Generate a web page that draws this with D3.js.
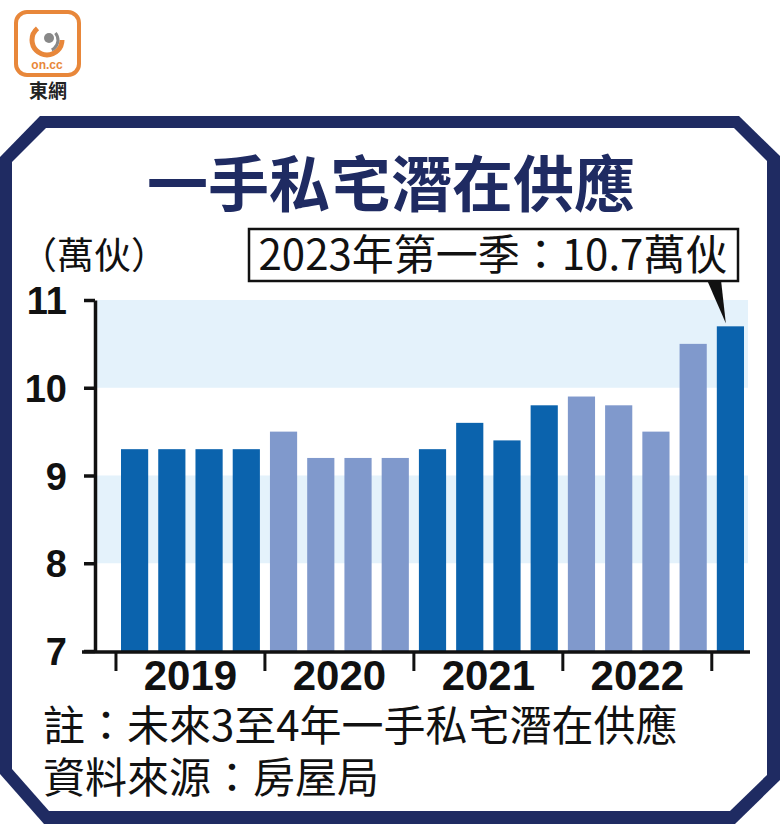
<!DOCTYPE html>
<html>
<head>
<meta charset="utf-8">
<script src="https://cdn.jsdelivr.net/npm/d3@7"></script>
<style>
  html, body { margin: 0; padding: 0; background: #fff; }
  svg { display: block; }
</style>
</head>
<body>
<script>
// ---- data ----
const quarters = ["2019Q1","2019Q2","2019Q3","2019Q4","2020Q1","2020Q2","2020Q3","2020Q4",
                  "2021Q1","2021Q2","2021Q3","2021Q4","2022Q1","2022Q2","2022Q3","2022Q4","2023Q1"];
const supply = [9.3, 9.3, 9.3, 9.3, 9.5, 9.2, 9.2, 9.2, 9.3, 9.6, 9.4, 9.8, 9.9, 9.8, 9.5, 10.5, 10.7];
const yearGroup = [0,0,0,0,1,1,1,1,2,2,2,2,3,3,3,3,4];
const years = ["2019", "2020", "2021", "2022"];
const yTicks = [7, 8, 9, 10, 11];
const bandRanges = [[8, 9], [10, 11]];
const title = "一手私宅潛在供應";
const unitLabel = "（萬伙）";
const calloutText = "2023年第一季：10.7萬伙";
const notes = ["註：未來3至4年一手私宅潛在供應", "資料來源：房屋局"];

// ---- setup ----
const W = 780, H = 824;
const svg = d3.select("body").append("svg").attr("width", W).attr("height", H);
const FONT = "'Liberation Sans', Arial, 'Noto Sans CJK TC', sans-serif";
const CJK = "'Noto Sans CJK TC', 'Liberation Sans', sans-serif";
const navy = "#1f2b62";

// frame (octagonal)
svg.append("path")
  .attr("d", "M0,157 L40,116 L739,116 L780,156 L780,780 L735,824 L44,824 L0,774 Z")
  .attr("fill", navy);
svg.append("path")
  .attr("d", "M12,162 L46,128 L734,128 L767,161 L767,775 L730,811 L49,811 L12,769 Z")
  .attr("fill", "#fff");

// logo
const logo = svg.append("g");
logo.append("rect").attr("x", 16).attr("y", 12).attr("width", 63).attr("height", 63)
  .attr("rx", 11).attr("fill", "#fff").attr("stroke", "#e8873a").attr("stroke-width", 4);
logo.append("circle").attr("cx", 47).attr("cy", 40).attr("r", 15).attr("fill", "none")
  .attr("stroke", "#e8873a").attr("stroke-width", 5).attr("stroke-dasharray", "60 40");
logo.append("circle").attr("cx", 47).attr("cy", 40).attr("r", 11).attr("fill", "none")
  .attr("stroke", "#888").attr("stroke-width", 3).attr("stroke-dasharray", "20 50")
  .attr("transform", "rotate(-40 47 40)");
logo.append("circle").attr("cx", 49).attr("cy", 38).attr("r", 5).attr("fill", "#888");
logo.append("text").attr("x", 47).attr("y", 69).attr("text-anchor", "middle")
  .attr("font-family", FONT).attr("font-weight", "bold").attr("font-size", 12)
  .attr("fill", "#e8873a").text("on.cc");
logo.append("text").attr("x", 48).attr("y", 98).attr("text-anchor", "middle")
  .attr("font-family", CJK).attr("font-weight", "bold").attr("font-size", 19)
  .attr("fill", "#222").text("東網");

// title
svg.append("text").attr("x", 391).attr("y", 207).attr("text-anchor", "middle")
  .attr("font-family", CJK).attr("font-weight", "bold").attr("font-size", 61)
  .attr("fill", navy).text(title);

// scales
const y = d3.scaleLinear().domain([7, 11]).range([651, 300]);
const x = d3.scaleBand().domain(quarters).range([121, 744]).paddingInner(0.27).paddingOuter(0);
const step = x.step();
const gap = step - x.bandwidth();

// background bands
svg.append("g").selectAll("rect").data(bandRanges).join("rect")
  .attr("x", 97).attr("width", 651)
  .attr("y", d => y(d[1])).attr("height", d => y(d[0]) - y(d[1]))
  .attr("fill", "#e4f2fb");

// bars
svg.append("g").selectAll("rect").data(supply).join("rect")
  .attr("x", (d, i) => x(quarters[i]))
  .attr("width", x.bandwidth())
  .attr("y", d => y(d))
  .attr("height", d => y(7) - y(d))
  .attr("fill", (d, i) => yearGroup[i] % 2 === 0 ? "#0b63ad" : "#8099cc");

// y axis
const yAxis = d3.axisLeft(y).tickValues(yTicks).tickFormat(d3.format("d"))
  .tickSize(11).tickPadding(17).tickSizeOuter(0);
const gy = svg.append("g").attr("transform", "translate(95,0)").call(yAxis);
gy.select(".domain").attr("stroke", "#111").attr("stroke-width", 3.5);
gy.selectAll(".tick line").attr("stroke", "#111").attr("stroke-width", 3.5);
gy.selectAll(".tick text").attr("font-family", FONT).attr("font-weight", "bold")
  .attr("font-size", 38).attr("fill", "#111").attr("dy", "0.36em");

// x axis baseline
svg.append("line").attr("x1", 82).attr("x2", 750).attr("y1", 652).attr("y2", 652)
  .attr("stroke", "#111").attr("stroke-width", 3.5);
// year separator ticks
const sepIdx = [0, 4, 8, 12, 16];
svg.append("g").selectAll("line").data(sepIdx).join("line")
  .attr("x1", i => x(quarters[i]) - gap / 2).attr("x2", i => x(quarters[i]) - gap / 2)
  .attr("y1", 652).attr("y2", 671)
  .attr("stroke", "#111").attr("stroke-width", 3);
// year labels
svg.append("g").selectAll("text").data(years).join("text")
  .attr("x", (d, k) => x(quarters[4 * k]) - gap / 2 + 2 * step)
  .attr("y", 690).attr("text-anchor", "middle")
  .attr("font-family", FONT).attr("font-weight", "bold").attr("font-size", 42)
  .attr("fill", "#111").text(d => d);

// unit label
svg.append("text").attr("x", 20).attr("y", 269)
  .attr("font-family", CJK).attr("font-size", 37).attr("fill", "#111").text(unitLabel);

// callout
const lastQ = quarters[quarters.length - 1];
const lastV = supply[supply.length - 1];
const tipX = x(lastQ) + 9, tipY = y(lastV) - 3;
svg.append("rect").attr("x", 249).attr("y", 229).attr("width", 489).attr("height", 52)
  .attr("fill", "#fff").attr("stroke", "#111").attr("stroke-width", 2.5);
svg.append("path")
  .attr("d", `M707,280 L721,280 L${tipX},${tipY} Z`).attr("fill", "#111");
svg.append("text").attr("x", 493).attr("y", 270).attr("text-anchor", "middle")
  .attr("font-family", CJK).attr("font-size", 42).attr("fill", "#111").text(calloutText);

// notes
svg.append("g").selectAll("text").data(notes).join("text")
  .attr("x", 43).attr("y", (d, i) => 741 + i * 52)
  .attr("font-family", CJK).attr("font-size", 42).attr("fill", "#111").text(d => d);
</script>
</body>
</html>
